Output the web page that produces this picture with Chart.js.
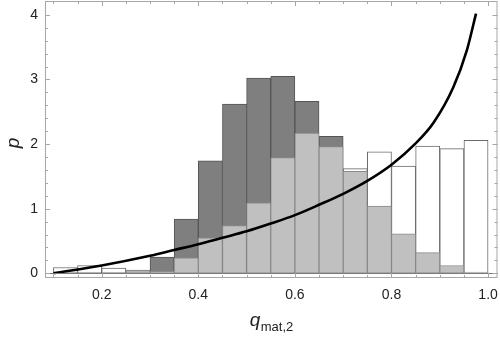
<!DOCTYPE html>
<html>
<head>
<meta charset="utf-8">
<script src="https://cdn.jsdelivr.net/npm/chart.js@4.4.1/dist/chart.umd.min.js"></script>
<style>
  html, body { margin: 0; padding: 0; background: #fff; }
  #wrap { width: 500px; height: 339px; }
</style>
</head>
<body>
<div id="wrap"><canvas id="chart" width="500" height="339"></canvas></div>
<script>
// bin centres of the 18 histogram bins (width 0.05, from 0.1 to 1.0)
const binCenters = [0.125, 0.175, 0.225, 0.275, 0.325, 0.375, 0.425, 0.475, 0.525,
  0.575, 0.625, 0.675, 0.725, 0.775, 0.825, 0.875, 0.925, 0.975];

// outlined (white) histogram; null where it is hidden behind the grey bars
const openHeights = [0.09, 0.12, 0.08, 0.05, null, null, null, null, null,
  null, null, null, 1.62, 1.88, 1.66, 1.97, 1.93, 2.06];
// dark grey histogram; null where it is hidden behind the light bars
const darkHeights = [null, null, null, null, 0.25, 0.84, 1.74, 2.62, 3.02,
  3.05, 2.66, 2.12, null, null, null, null, null, null];
// light grey histogram
const lightHeights = [null, null, null, 0.04, 0.03, 0.24, 0.55, 0.74, 1.09,
  1.79, 2.17, 1.96, 1.58, 1.04, 0.61, 0.32, 0.12, 0.02];

// black curve, points
const curveX = [0.1, 0.2, 0.3, 0.35, 0.4, 0.45, 0.5, 0.55, 0.6, 0.65, 0.7, 0.75,
  0.8, 0.85, 0.887, 0.928, 0.956, 0.975];
const curveY = [0.0, 0.12, 0.27, 0.36, 0.45, 0.55, 0.65, 0.77, 0.9, 1.06, 1.23, 1.43,
  1.68, 2.01, 2.33, 2.88, 3.45, 4.02];

const xTickLabels = ['0.2', '0.4', '0.6', '0.8', '1.0'];
const yTickLabels = ['0', '1', '2', '3', '4'];

const FONT = "'Liberation Sans', Arial, sans-serif";
const frameColor = '#a6a6a6';

function toPoints(xs, ys) {
  return xs.map((x, i) => ({ x, y: ys[i] }));
}

function barSet(values, fill, border, order) {
  return {
    type: 'bar',
    data: toPoints(binCenters, values),
    backgroundColor: fill,
    borderColor: border,
    borderWidth: 1,
    borderSkipped: false,
    grouped: false,
    barPercentage: 1,
    categoryPercentage: 1,
    order
  };
}

function noEdgePadding(scale) {
  scale.paddingTop = 0;
  scale.paddingBottom = 0;
  scale.paddingLeft = 0;
  scale.paddingRight = 0;
}

// frame, inward ticks, zero axis and the x title with subscript
const framePlugin = {
  id: 'frame',
  afterDatasetsDraw(chart) {
    const { ctx, chartArea: a, scales: { x, y } } = chart;
    ctx.save();
    ctx.lineWidth = 1;
    // axis line at p = 0
    ctx.strokeStyle = '#7a7a7a';
    const y0 = Math.round(y.getPixelForValue(0)) + 0.5;
    ctx.beginPath();
    ctx.moveTo(a.left, y0);
    ctx.lineTo(a.right, y0);
    ctx.stroke();

    ctx.strokeStyle = frameColor;
    ctx.strokeRect(a.left + 0.5, a.top + 0.5, a.right - a.left - 1, a.bottom - a.top - 1);
    ctx.beginPath();
    for (let i = 2; i <= 20; i++) {
      const v = i * 0.05;
      const px = Math.round(x.getPixelForValue(v)) + 0.5;
      const len = i % 4 === 0 ? 5 : 3;
      ctx.moveTo(px, a.bottom); ctx.lineTo(px, a.bottom - len);
      ctx.moveTo(px, a.top); ctx.lineTo(px, a.top + len);
    }
    for (let i = 0; i <= 20; i++) {
      const v = i * 0.2;
      const py = Math.round(y.getPixelForValue(v)) + 0.5;
      const len = i % 5 === 0 ? 5 : 3;
      ctx.moveTo(a.left, py); ctx.lineTo(a.left + len, py);
      ctx.moveTo(a.right, py); ctx.lineTo(a.right - len, py);
    }
    ctx.stroke();
    ctx.restore();
  },
  afterDraw(chart) {
    const { ctx, chartArea: a } = chart;
    ctx.save();
    ctx.fillStyle = '#222';
    ctx.textBaseline = 'alphabetic';
    // x title: q with subscript mat,2
    const cx = (a.left + a.right) / 2;
    ctx.font = 'italic 19px ' + FONT;
    const qW = ctx.measureText('q').width;
    ctx.font = '13px ' + FONT;
    const sW = ctx.measureText('mat,2').width;
    const startX = cx - (qW + sW) / 2;
    ctx.font = 'italic 19px ' + FONT;
    ctx.fillText('q', startX, 326);
    ctx.font = '13px ' + FONT;
    ctx.fillText('mat,2', startX + qW + 0.5, 331);
    // y title: p
    ctx.translate(19, 143);
    ctx.rotate(-Math.PI / 2);
    ctx.font = 'italic 19px ' + FONT;
    ctx.textAlign = 'center';
    ctx.fillText('p', 0, 0);
    ctx.restore();
  }
};

new Chart(document.getElementById('chart'), {
  type: 'bar',
  data: {
    datasets: [
      {
        type: 'line',
        data: toPoints(curveX, curveY),
        borderColor: '#000',
        borderWidth: 2.6,
        pointRadius: 0,
        cubicInterpolationMode: 'monotone',
        fill: false,
        order: 0
      },
      barSet(lightHeights, '#c0c0c0', '#8a8a8a', 1),
      barSet(darkHeights, '#7f7f7f', '#555555', 2),
      barSet(openHeights, '#ffffff', '#6a6a6a', 3)
    ]
  },
  plugins: [framePlugin],
  options: {
    responsive: false,
    animation: false,
    events: [],
    layout: { padding: { top: 1, right: 2.5, left: 0, bottom: 0 } },
    plugins: { legend: { display: false }, tooltip: { enabled: false } },
    scales: {
      x: {
        type: 'linear',
        min: 0.0826,
        max: 1.0195,
        offset: false,
        grid: { display: false, drawTicks: false },
        border: { display: false },
        afterFit: scale => { scale.height = 61; noEdgePadding(scale); },
        ticks: {
          stepSize: 0.2,
          includeBounds: false,
          autoSkip: false,
          maxRotation: 0,
          padding: 9,
          color: '#222',
          font: { family: FONT, size: 14 },
          callback: (value) => xTickLabels.find(t => Math.abs(Number(t) - value) < 1e-6) || ''
        }
      },
      y: {
        type: 'linear',
        min: -0.073,
        max: 4.215,
        grid: { display: false, drawTicks: false },
        border: { display: false },
        afterFit: scale => { scale.width = 45; noEdgePadding(scale); },
        ticks: {
          stepSize: 1,
          includeBounds: false,
          padding: 7,
          color: '#222',
          font: { family: FONT, size: 14 },
          callback: (value) => yTickLabels.find(t => Math.abs(Number(t) - value) < 1e-6) || ''
        }
      }
    }
  }
});
</script>
</body>
</html>
